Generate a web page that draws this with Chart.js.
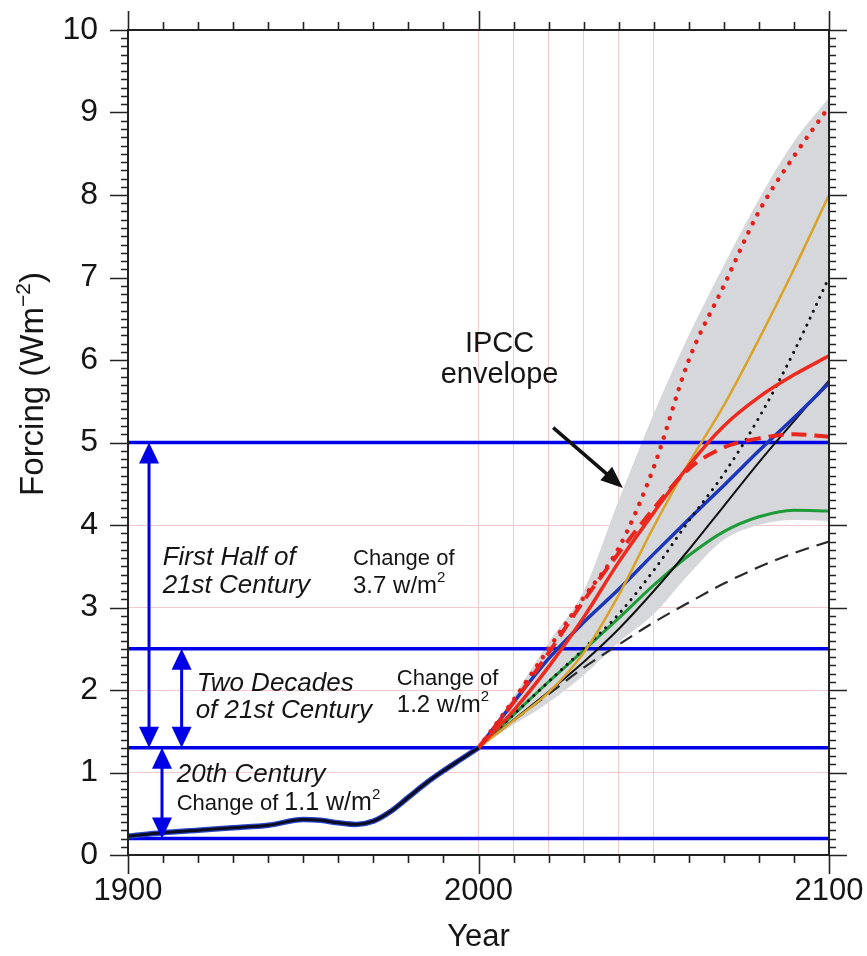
<!DOCTYPE html>
<html>
<head>
<meta charset="utf-8">
<script src="https://cdn.jsdelivr.net/npm/chart.js@4.4.0/dist/chart.umd.min.js"></script>
<style>
  html, body { margin: 0; padding: 0; background: #fff; }
  #wrap { width: 867px; height: 956px; }
</style>
</head>
<body>
<div id="wrap"><canvas id="forcingChart" width="867" height="956"></canvas></div>
<script>
// Radiative forcing chart: 20th century history + scenario spread to 2100

const FONT = '"Liberation Sans", Arial, Helvetica, sans-serif';

// --- data ---
const histYears   = [1900, 1910, 1920, 1930, 1940, 1950, 1955, 1960, 1965, 1970, 1975, 1980, 1985, 1990, 1995, 2000];
const histForcing = [0.23, 0.27, 0.30, 0.33, 0.36, 0.43, 0.42, 0.39, 0.37, 0.41, 0.53, 0.70, 0.87, 1.02, 1.16, 1.30];

const futureYears  = [2000, 2010, 2020, 2030, 2040, 2050, 2060, 2070, 2080, 2090, 2100];
const envelopeHigh = [1.30, 1.92, 2.58, 3.20, 4.30, 5.35, 6.30, 7.15, 7.95, 8.65, 9.18];
const envelopeLow  = [1.30, 1.58, 1.85, 2.18, 2.58, 2.92, 3.40, 3.82, 4.00, 4.06, 4.05];
const redDotted    = [1.30, 1.88, 2.50, 3.12, 3.72, 4.70, 6.00, 6.90, 7.80, 8.47, 9.07];
const redDashed    = [1.30, 1.85, 2.45, 3.08, 3.66, 4.20, 4.68, 4.94, 5.05, 5.10, 5.07];
const redSolid     = [1.30, 1.75, 2.28, 2.88, 3.55, 4.15, 4.72, 5.20, 5.55, 5.82, 6.05];
const orangeSolid  = [1.30, 1.63, 1.97, 2.45, 3.15, 3.98, 4.75, 5.45, 6.25, 7.10, 8.00];
const blackDotted  = [1.30, 1.70, 2.10, 2.50, 2.92, 3.45, 4.05, 4.62, 5.30, 6.10, 7.00];
const blueSolid    = [1.30, 1.85, 2.38, 2.82, 3.22, 3.65, 4.07, 4.48, 4.90, 5.30, 5.72];
const blackSolid   = [1.30, 1.64, 1.98, 2.34, 2.74, 3.20, 3.70, 4.23, 4.76, 5.26, 5.75];
const greenSolid   = [1.30, 1.70, 2.10, 2.48, 2.87, 3.27, 3.63, 3.92, 4.10, 4.18, 4.17];
const blackDashed  = [1.30, 1.63, 1.95, 2.27, 2.55, 2.82, 3.06, 3.29, 3.49, 3.66, 3.80];

// reference levels (blue horizontal lines)
const levelValues = [0.2, 1.3, 2.5, 5.0];
const xRange = [1900, 2100];

function pts(xs, ys) { return xs.map((x, i) => ({ x: x, y: ys[i] })); }

function curve(data, color, width, dash, order) {
    return {
        data: pts(futureYears, data),
        borderColor: color,
        borderWidth: width,
        borderDash: dash || [],
        borderCapStyle: dash && dash[0] < 1 ? 'round' : 'butt',
        pointRadius: 0,
        fill: false,
        cubicInterpolationMode: 'monotone',
        order: order
    };
}

const datasets = [
    { data: pts(futureYears, envelopeLow), borderWidth: 0, pointRadius: 0, fill: false, order: 20,
      cubicInterpolationMode: 'monotone' },
    { data: pts(futureYears, envelopeHigh), borderWidth: 0, pointRadius: 0, fill: '-1', order: 19,
      backgroundColor: 'rgb(213,215,218)', cubicInterpolationMode: 'monotone' }
];

levelValues.forEach(v => {
    datasets.push({
        data: [{ x: xRange[0], y: v }, { x: xRange[1], y: v }],
        borderColor: '#0000e6', borderWidth: 3.5, pointRadius: 0, fill: false, order: 15
    });
});

datasets.push(curve(blackDashed, '#2a2a2a', 2.2, [14, 8], 12));
datasets.push(curve(greenSolid, '#1f9a38', 3, null, 11));
datasets.push(curve(blackSolid, '#111', 2, null, 10));
datasets.push(curve(blueSolid, '#1b36b8', 3.5, null, 9));
datasets.push(curve(blackDotted, '#111', 3, [0.1, 7.5], 8));
datasets.push(curve(orangeSolid, '#d9a32a', 2.5, null, 7));
datasets.push(curve(redSolid, '#ee2a1e', 3.5, null, 6));
datasets.push(curve(redDashed, '#e8261e', 4, [15, 8], 5));
datasets.push(curve(redDotted, '#e3201c', 4.5, [0.1, 10], 4));

// historical forcing: black over a blue edge
datasets.push({ data: pts(histYears, histForcing), borderColor: '#2846c8', borderWidth: 5.5,
    pointRadius: 0, fill: false, cubicInterpolationMode: 'monotone', order: 2 });
datasets.push({ data: pts(histYears, histForcing), borderColor: '#0b0b22', borderWidth: 3,
    pointRadius: 0, fill: false, cubicInterpolationMode: 'monotone', order: 1 });

// --- annotation text (year, value of baseline) ---
const notes = [
    { x: 1909.9, y: 3.515, runs: [['First Half of', 26, 'italic']] },
    { x: 1909.9, y: 3.176, runs: [['21st Century', 26, 'italic']] },
    { x: 1964.2, y: 3.515, runs: [['Change of', 22]] },
    { x: 1964.2, y: 3.176, runs: [['3.7 w/m', 24], ['2', 15, '', 11]] },
    { x: 1919.6, y: 1.988, runs: [['Two Decades', 26, 'italic']] },
    { x: 1919.3, y: 1.661, runs: [['of 21st Century', 26, 'italic']] },
    { x: 1976.7, y: 2.06, runs: [['Change of', 22]] },
    { x: 1976.7, y: 1.733, runs: [['1.2 w/m', 24], ['2', 15, '', 11]] },
    { x: 1913.9, y: 0.885, runs: [['20th Century', 26, 'italic']] },
    { x: 1913.9, y: 0.545, runs: [['Change of ', 22], ['1.1 w/m', 25], ['2', 15, '', 11]] },
    { x: 2006.0, y: 6.097, runs: [['IPCC', 29]], center: true },
    { x: 2006.0, y: 5.72, runs: [['envelope', 29]], center: true }
];

// double-headed arrows (year, from, to)
const spanArrows = [
    { x: 1906.0, from: 1.3, to: 5.0 },
    { x: 1915.3, from: 1.3, to: 2.5 },
    { x: 1909.7, from: 0.2, to: 1.3 }
];

function drawRuns(ctx, x, y, runs, center) {
    let widths = runs.map(r => {
        ctx.font = (r[2] || '') + ' ' + r[1] + 'px ' + FONT;
        return ctx.measureText(r[0]).width;
    });
    let cx = center ? x - widths.reduce((a, b) => a + b, 0) / 2 : x;
    runs.forEach((r, i) => {
        ctx.font = (r[2] || '') + ' ' + r[1] + 'px ' + FONT;
        ctx.fillText(r[0], cx, y - (r[3] || 0));
        cx += widths[i];
    });
}

function arrowHead(ctx, x, y, dir, w, l) {
    // dir: +1 points down, -1 points up
    ctx.beginPath();
    ctx.moveTo(x, y);
    ctx.lineTo(x - w / 2, y - dir * l);
    ctx.lineTo(x + w / 2, y - dir * l);
    ctx.closePath();
    ctx.fill();
}

const annotations = {
    id: 'annotations',
    afterDatasetsDraw(chart) {
        const { ctx, scales: { x, y } } = chart;
        ctx.save();

        // blue span arrows
        ctx.strokeStyle = '#0000e6';
        ctx.fillStyle = '#0000e6';
        ctx.lineWidth = 3;
        spanArrows.forEach(a => {
            const px = x.getPixelForValue(a.x);
            const top = y.getPixelForValue(a.to);
            const bot = y.getPixelForValue(a.from);
            ctx.beginPath();
            ctx.moveTo(px, top + 18);
            ctx.lineTo(px, bot - 18);
            ctx.stroke();
            arrowHead(ctx, px, top, -1, 20, 21);
            arrowHead(ctx, px, bot, 1, 20, 21);
        });

        // black arrow to the envelope
        const x0 = x.getPixelForValue(2021.3), y0 = y.getPixelForValue(5.18);
        const x1 = x.getPixelForValue(2041.2), y1 = y.getPixelForValue(4.45);
        const ang = Math.atan2(y1 - y0, x1 - x0);
        ctx.strokeStyle = '#111';
        ctx.fillStyle = '#111';
        ctx.lineWidth = 3.5;
        ctx.beginPath();
        ctx.moveTo(x0, y0);
        ctx.lineTo(x1 - 18 * Math.cos(ang), y1 - 18 * Math.sin(ang));
        ctx.stroke();
        ctx.beginPath();
        ctx.moveTo(x1, y1);
        ctx.lineTo(x1 - 22 * Math.cos(ang) + 9 * Math.sin(ang), y1 - 22 * Math.sin(ang) - 9 * Math.cos(ang));
        ctx.lineTo(x1 - 22 * Math.cos(ang) - 9 * Math.sin(ang), y1 - 22 * Math.sin(ang) + 9 * Math.cos(ang));
        ctx.closePath();
        ctx.fill();

        // text
        ctx.fillStyle = '#151515';
        ctx.textBaseline = 'alphabetic';
        ctx.textAlign = 'left';
        notes.forEach(n => {
            drawRuns(ctx, x.getPixelForValue(n.x), y.getPixelForValue(n.y), n.runs, n.center);
        });
        ctx.restore();
    }
};

// frame with major/minor ticks on all four sides + rotated y title
const axisFrame = {
    id: 'axisFrame',
    afterDraw(chart) {
        const { ctx, chartArea: a, scales: { x, y } } = chart;
        ctx.save();
        ctx.strokeStyle = '#222';
        ctx.lineWidth = 2;
        ctx.strokeRect(a.left, a.top, a.right - a.left, a.bottom - a.top);

        ctx.lineWidth = 1.6;
        ctx.beginPath();
        for (let i = 0; i <= 100; i++) {
            const py = Math.round(y.getPixelForValue(i / 10)) + 0.5;
            const len = i % 10 === 0 ? 18 : 7;
            ctx.moveTo(a.left - len, py); ctx.lineTo(a.left, py);
            ctx.moveTo(a.right, py); ctx.lineTo(a.right + len, py);
        }
        for (let yr = xRange[0]; yr <= xRange[1]; yr += 10) {
            const px = Math.round(x.getPixelForValue(yr)) + 0.5;
            const len = yr % 100 === 0 ? 19 : 8;
            ctx.moveTo(px, a.top - len); ctx.lineTo(px, a.top);
            ctx.moveTo(px, a.bottom); ctx.lineTo(px, a.bottom + len);
        }
        ctx.stroke();

        // y axis title: Forcing (Wm^-2)
        ctx.fillStyle = '#151515';
        ctx.translate(43, 384);
        ctx.rotate(-Math.PI / 2);
        ctx.textBaseline = 'alphabetic';
        const runs = [['Forcing (Wm', 33], ['\u22122', 21, '', 13], [')', 33]];
        drawRuns(ctx, 0, 0, runs, true);
        ctx.restore();
    }
};

const ctx = document.getElementById('forcingChart').getContext('2d');
new Chart(ctx, {
    type: 'line',
    data: { datasets: datasets },
    plugins: [annotations, axisFrame],
    options: {
        responsive: false,
        animation: false,
        devicePixelRatio: 1,
        layout: { padding: { top: 30, right: 38, left: 0, bottom: 0 } },
        plugins: { legend: { display: false }, tooltip: { enabled: false } },
        scales: {
            x: {
                type: 'linear',
                min: xRange[0],
                max: xRange[1],
                border: { display: false },
                grid: {
                    drawTicks: false,
                    lineWidth: 1,
                    color: c => (c.tick && c.tick.value >= 2000 && c.tick.value <= 2050) ? '#f3caca' : 'rgba(0,0,0,0)'
                },
                ticks: {
                    stepSize: 10,
                    autoSkip: false,
                    maxRotation: 0,
                    padding: 18,
                    color: '#151515',
                    font: { family: FONT, size: 31 },
                    callback: v => (v % 100 === 0 ? String(v) : '')
                },
                title: {
                    display: true,
                    text: 'Year',
                    color: '#151515',
                    font: { family: FONT, size: 31 },
                    padding: { top: 0, bottom: 0 }
                },
                afterFit: s => { s.height = 101; s.paddingLeft = 0; s.paddingRight = 0; }
            },
            y: {
                min: 0,
                max: 10,
                border: { display: false },
                grid: {
                    drawTicks: false,
                    lineWidth: 1,
                    color: c => (c.tick && c.tick.value >= 1 && c.tick.value <= 4) ? '#f3caca' : 'rgba(0,0,0,0)'
                },
                ticks: {
                    stepSize: 1,
                    padding: 30,
                    color: '#151515',
                    font: { family: FONT, size: 32 }
                },
                afterFit: s => { s.width = 128; s.paddingTop = 0; s.paddingBottom = 0; }
            }
        }
    }
});
</script>
</body>
</html>
